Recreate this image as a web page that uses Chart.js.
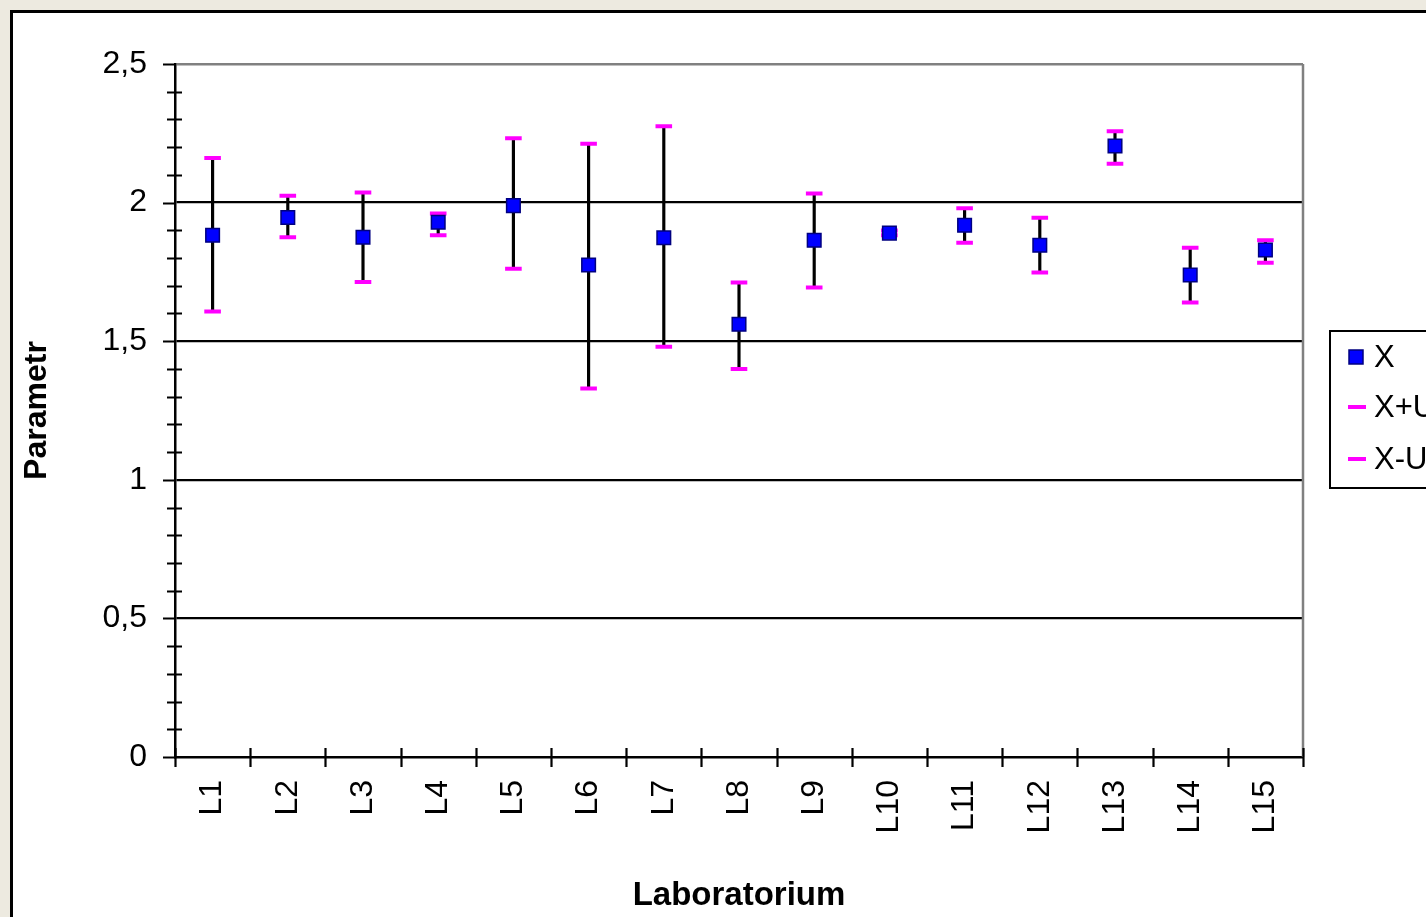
<!DOCTYPE html>
<html>
<head>
<meta charset="utf-8">
<title>Parametr - Laboratorium</title>
<script src="https://cdn.jsdelivr.net/npm/chart.js@4.4.1/dist/chart.umd.min.js"></script>
<style>
  html, body { margin: 0; padding: 0; overflow: hidden; }
  body { background: #edeae0; width: 1426px; height: 917px; position: relative; }
  #frame {
    position: absolute; left: 10px; top: 10px; width: 1500px; height: 1000px;
    background: #fff; border: 3px solid #000;
  }
  #wrap { position: absolute; left: 0; top: 0; width: 1426px; height: 917px; }
</style>
</head>
<body>
<div id="frame"></div>
<div id="wrap"><canvas id="chart"></canvas></div>
<script>
/* global Chart */

// values
const labs = ['L1', 'L2', 'L3', 'L4', 'L5', 'L6', 'L7', 'L8', 'L9', 'L10', 'L11', 'L12', 'L13', 'L14', 'L15'];
const xVals = [1.882, 1.946, 1.875, 1.929, 1.989, 1.775, 1.873, 1.561, 1.864, 1.890, 1.918, 1.846, 2.204, 1.739, 1.829];
const upperVals = [2.161, 2.025, 2.036, 1.961, 2.232, 2.212, 2.275, 1.712, 2.033, 1.899, 1.980, 1.945, 2.257, 1.837, 1.864];
const lowerVals = [1.607, 1.875, 1.714, 1.882, 1.761, 1.329, 1.480, 1.400, 1.694, 1.882, 1.855, 1.748, 2.140, 1.640, 1.783];
const yMin = 0;
const yMax = 2.5;
const yStep = 0.1;

Chart.defaults.font.family = '"Liberation Sans", Arial, sans-serif';
Chart.defaults.color = '#000';

function isMajor(v) {
  return Math.abs(v * 2 - Math.round(v * 2)) < 1e-6;
}

function formatTick(v) {
  if (!isMajor(v)) return '';
  return String(Math.round(v * 10) / 10).replace('.', ',');
}

// Excel-like tick marks crossing the axes, plus the grey right edge of the plot
const axisDecor = {
  id: 'axisDecor',
  afterDraw: function(chart) {
    const ctx = chart.ctx;
    const area = chart.chartArea;
    const x = chart.scales.x;
    const y = chart.scales.y;
    ctx.save();

    ctx.strokeStyle = '#808080';
    ctx.lineWidth = 2.5;
    ctx.beginPath();
    ctx.moveTo(area.right, area.top);
    ctx.lineTo(area.right, area.bottom);
    ctx.stroke();

    ctx.strokeStyle = '#000';
    ctx.lineWidth = 2.2;
    ctx.beginPath();
    y.ticks.forEach(function(t) {
      const py = Math.round(y.getPixelForValue(t.value)) + 0.5;
      if (isMajor(t.value)) {
        ctx.moveTo(area.left - 12, py);
        ctx.lineTo(area.left, py);
      } else {
        ctx.moveTo(area.left - 8, py);
        ctx.lineTo(area.left + 7, py);
      }
    });
    for (let i = 0; i <= labs.length; i++) {
      const px = Math.round(x.getPixelForValue(i - 0.5)) + 0.5;
      ctx.moveTo(px, area.bottom - 9);
      ctx.lineTo(px, area.bottom + 10);
    }
    ctx.stroke();
    ctx.restore();
  },
};

// legend box on the right, partly cut by the canvas edge
const sideLegend = {
  id: 'sideLegend',
  afterDraw: function(chart) {
    const ctx = chart.ctx;
    const ds = chart.data.datasets;
    ctx.save();
    ctx.strokeStyle = '#000';
    ctx.lineWidth = 2;
    ctx.strokeRect(1330, 331, 120, 157);

    ctx.font = '31px "Liberation Sans", Arial, sans-serif';
    ctx.fillStyle = '#000';
    ctx.textBaseline = 'middle';

    // X
    ctx.fillStyle = ds[0].pointBackgroundColor;
    ctx.strokeStyle = ds[0].pointBorderColor;
    ctx.lineWidth = 1.5;
    ctx.fillRect(1349, 350, 14, 14);
    ctx.strokeRect(1349, 350, 14, 14);
    ctx.fillStyle = '#000';
    ctx.fillText(ds[0].label, 1374, 358);

    [1, 2].forEach(function(k, j) {
      const cy = 407 + j * 52;
      ctx.strokeStyle = ds[k].pointBorderColor;
      ctx.lineWidth = 4;
      ctx.beginPath();
      ctx.moveTo(1348, cy);
      ctx.lineTo(1366, cy);
      ctx.stroke();
      ctx.fillStyle = '#000';
      ctx.fillText(ds[k].label, 1374, cy + 1);
    });
    ctx.restore();
  },
};

const ctx = document.getElementById('chart').getContext('2d');

new Chart(ctx, {
  type: 'line',
  data: {
    labels: labs,
    datasets: [{
      label: 'X',
      data: xVals,
      showLine: false,
      pointStyle: 'rect',
      pointRadius: 9.6,
      pointBackgroundColor: '#0000ff',
      pointBorderColor: '#000080',
      pointBorderWidth: 1.5,
      order: 0,
    }, {
      label: 'X+U',
      data: upperVals,
      showLine: false,
      pointStyle: 'line',
      pointRadius: 8.3,
      pointBorderColor: '#ff00ff',
      pointBorderWidth: 4,
      order: 1,
    }, {
      label: 'X-U',
      data: lowerVals,
      showLine: false,
      pointStyle: 'line',
      pointRadius: 8.3,
      pointBorderColor: '#ff00ff',
      pointBorderWidth: 4,
      order: 1,
    }, {
      // high-low lines between X-U and X+U
      type: 'bar',
      label: 'hl',
      data: labs.map(function(l, i) { return [lowerVals[i], upperVals[i]]; }),
      backgroundColor: '#000',
      barThickness: 2.5,
      order: 2,
    }],
  },
  options: {
    responsive: true,
    maintainAspectRatio: false,
    animation: false,
    layout: { padding: { left: 0, top: 64, right: 123, bottom: 0 } },
    plugins: {
      legend: { display: false },
      tooltip: { enabled: false },
    },
    scales: {
      x: {
        offset: true,
        grid: { offset: true, display: false, drawTicks: false },
        border: { color: '#000', width: 2.5 },
        ticks: {
          autoSkip: false,
          minRotation: 90,
          maxRotation: 90,
          padding: 23,
          color: '#000',
          font: { size: 32 },
        },
        title: {
          display: true,
          text: 'Laboratorium',
          color: '#000',
          font: { size: 33, weight: 'bold' },
          padding: { top: 0, bottom: 1 },
        },
        afterFit: function(s) { s.height = 160; },
      },
      y: {
        min: yMin,
        max: yMax,
        grid: {
          drawTicks: false,
          color: function(c) {
            const v = c.tick ? c.tick.value : 0;
            if (Math.abs(v - yMax) < 1e-6) return '#808080';
            if (v > 1e-6 && isMajor(v)) return '#000';
            return 'rgba(0,0,0,0)';
          },
          lineWidth: function(c) {
            const v = c.tick ? c.tick.value : 0;
            return Math.abs(v - yMax) < 1e-6 ? 2.5 : 2.2;
          },
        },
        border: { color: '#000', width: 2.5 },
        ticks: {
          stepSize: yStep,
          autoSkip: false,
          padding: 28,
          color: '#000',
          font: { size: 32 },
          callback: function(v) { return formatTick(v); },
        },
        title: {
          display: true,
          text: 'Parametr',
          color: '#000',
          font: { size: 32, weight: 'bold' },
          padding: { top: 18, bottom: 0 },
        },
        afterFit: function(s) { s.width = 175; },
      },
    },
  },
  plugins: [axisDecor, sideLegend],
});
</script>
</body>
</html>
